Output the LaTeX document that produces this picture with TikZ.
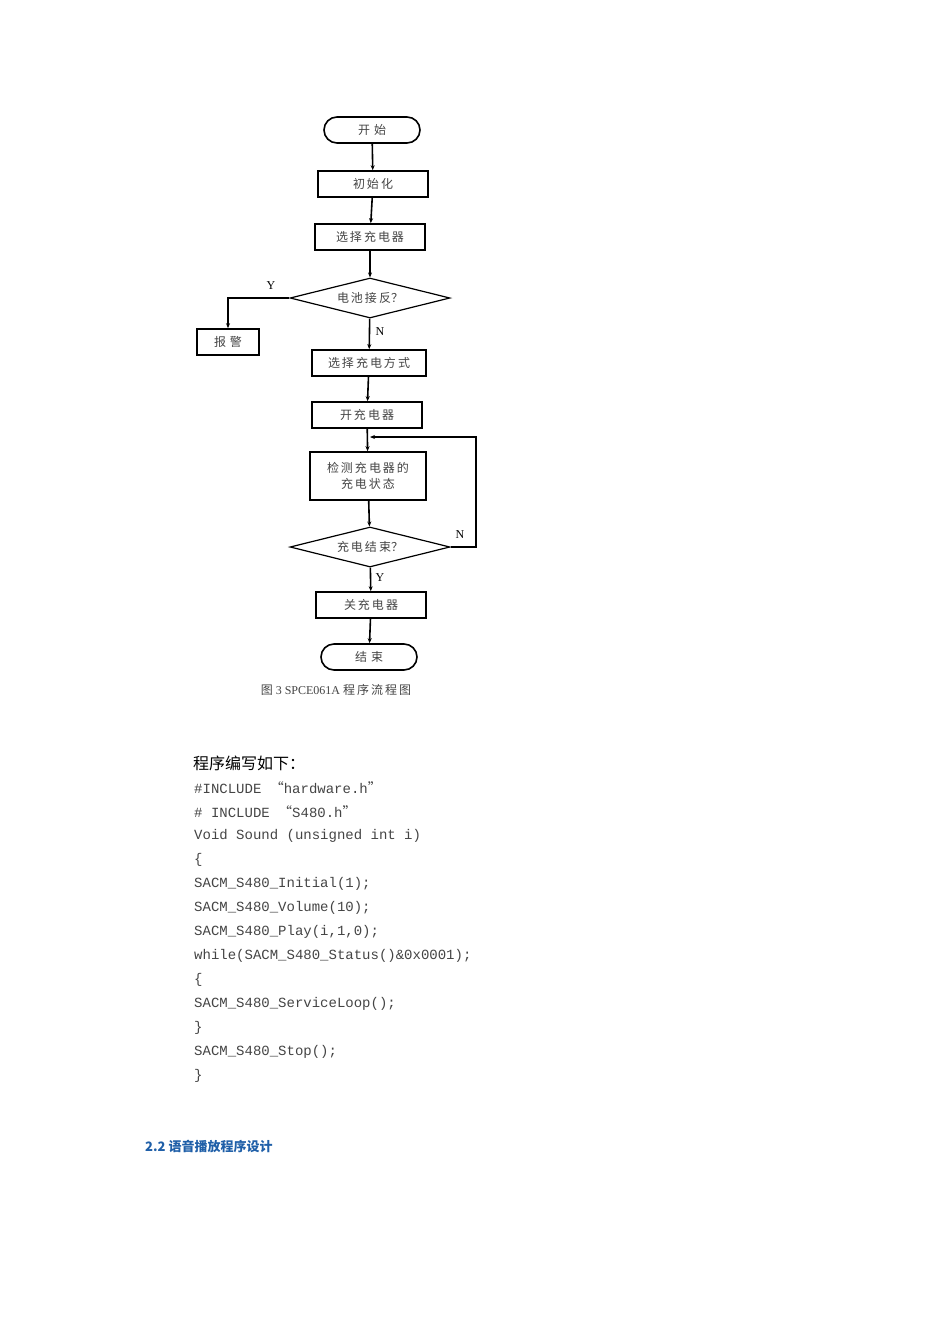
\documentclass[tikz,border=0pt]{standalone}
\usepackage{fontspec}
\setmainfont{Liberation Serif}
\newfontfamily\cjk{Noto Sans CJK SC}
\newfontfamily\codef{Liberation Mono}
\usetikzlibrary{shapes.geometric,arrows.meta}
\definecolor{txt}{HTML}{444444}
\definecolor{blu}{HTML}{1F5FA8}
\tikzset{x=1pt,y=-1pt,
 box/.style={draw,line width=1.6pt,minimum height=26pt,inner sep=0pt,font=\cjk\fontsize{12}{14}\selectfont,text=txt},
 term/.style={box,rounded corners=13pt},
 dia/.style={draw,line width=1.2pt,diamond,aspect=4,inner sep=0pt,minimum width=160pt,minimum height=40pt,font=\cjk\fontsize{12}{14}\selectfont,text=txt},
 ln/.style={line width=1.6pt,-{Stealth[length=5pt,width=4pt]}},
 lab/.style={font=\fontsize{12}{14}\selectfont},
 code/.style={anchor=west,text=txt,font=\codef\fontsize{14}{16}\selectfont,inner sep=0pt}}
\begin{document}
\begin{tikzpicture}
\useasboundingbox (0,0) rectangle (950,1344);
\node[term,minimum width=96pt] (s) at (372,130) {开\,\,始};
\node[box,minimum width=110pt] (i) at (373,184) {初\,始\,化};
\node[box,minimum width=110pt] (c) at (370,237) {选\,择\,充\,电\,器};
\node[dia] (d1) at (370,298) {电\,池\,接\,反？};
\node[box,minimum width=62pt] (a) at (228,342) {报\,\,警};
\node[box,minimum width=114pt] (m) at (369,363) {选\,择\,充\,电\,方\,式};
\node[box,minimum width=110pt] (o) at (367,415) {开\,充\,电\,器};
\node[box,minimum width=116pt,minimum height=48pt,align=center] (k) at (368,476) {检\,测\,充\,电\,器\,的\\[2pt]充\,电\,状\,态};
\node[dia] (d2) at (370,547) {充\,电\,结\,束？};
\node[box,minimum width=110pt] (f) at (371,605) {关\,充\,电\,器};
\node[term,minimum width=96pt] (e) at (369,657) {结\,\,束};
\node[text=txt,font=\fontsize{12}{14}\selectfont] (cap) at (336,690) {{\cjk 图} 3 SPCE061A {\cjk 程\,序\,流\,程\,图}};
\draw[ln] (s) -- (i);
\draw[ln] (i) -- (c);
\draw[ln] (c) -- (d1);
\draw[ln] (d1) -- (m);
\draw[ln] (d1.west) -| (a);
\draw[ln] (m) -- (o);
\draw[ln] (o) -- (k);
\draw[ln] (k) -- (d2);
\draw[ln] (d2) -- (f);
\draw[ln] (f) -- (e);
\coordinate (lp) at (370,437);
\draw[ln] (d2.east) -- (476,547) -- (476,437) -- (lp);
\node[lab] (y1) at (271,286) {Y};
\node[lab] (n1) at (380,332) {N};
\node[lab] (n2) at (460,535) {N};
\node[lab] (y2) at (380,578) {Y};
\node[anchor=west,inner sep=0pt,font=\cjk\fontsize{16}{18}\selectfont,text=black] (h) at (193,763) {程序编写如下：};
\node[code] (l1) at (194,788) {\#INCLUDE {\cjk “}hardware.h{\cjk ”}};
\node[code] (l2) at (194,812) {\# INCLUDE {\cjk “}S480.h{\cjk ”}};
\node[code] (l3) at (194,836) {Void Sound (unsigned int i)};
\node[code] (l4) at (194,860) {\{};
\node[code] (l5) at (194,884) {SACM\_S480\_Initial(1);};
\node[code] (l6) at (194,908) {SACM\_S480\_Volume(10);};
\node[code] (l7) at (194,932) {SACM\_S480\_Play(i,1,0);};
\node[code] (l8) at (194,956) {while(SACM\_S480\_Status()\&0x0001);};
\node[code] (l9) at (194,980) {\{};
\node[code] (l10) at (194,1004) {SACM\_S480\_ServiceLoop();};
\node[code] (l11) at (194,1028) {\}};
\node[code] (l12) at (194,1052) {SACM\_S480\_Stop();};
\node[code] (l13) at (194,1076) {\}};
\node[anchor=west,inner sep=0pt,text=blu,font=\cjk\bfseries\fontsize{13}{15}\selectfont] (t) at (145,1146) {2.2 语音播放程序设计};
\end{tikzpicture}
\end{document}
